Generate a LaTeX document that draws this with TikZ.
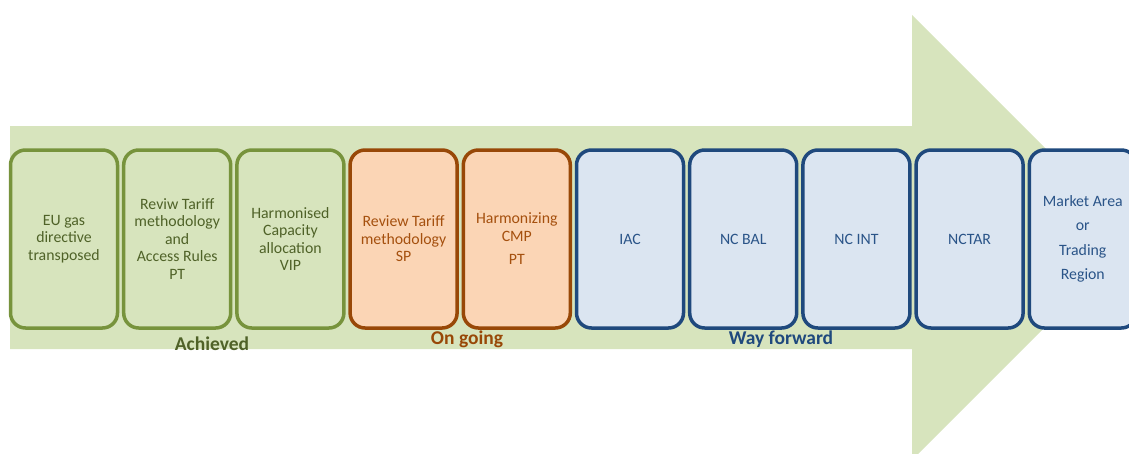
\documentclass[tikz,border=0pt]{standalone}
\usepackage{fontspec}
\setmainfont{Carlito}
\definecolor{arrowfill}{HTML}{D7E4BD}
\definecolor{gline}{HTML}{77933C}
\definecolor{gtext}{HTML}{4F6228}
\definecolor{ofill}{HTML}{FBD5B5}
\definecolor{oline}{HTML}{984807}
\definecolor{otext}{HTML}{A5500E}
\definecolor{bfill}{HTML}{DBE5F1}
\definecolor{bline}{HTML}{1F497D}
\definecolor{btext}{HTML}{2A5488}
\tikzset{
  stagebox/.style={rectangle, rounded corners=15pt, line width=3.5pt,
    minimum width=107pt, minimum height=178pt, align=center,
    font=\fontsize{15.8}{17.5}\selectfont, inner sep=2pt},
  gbox/.style={stagebox, draw=gline, fill=arrowfill, text=gtext},
  obox/.style={stagebox, draw=oline, fill=ofill, text=otext},
  bbox/.style={stagebox, draw=bline, fill=bfill, text=btext},
  phase/.style={font=\fontsize{19.5}{21}\selectfont\bfseries}
}
\begin{document}
\begin{tikzpicture}[x=1pt,y=-1pt]
\useasboundingbox (0,0) rectangle (1129,453);
\clip (0,0) rectangle (1129,453);
\fill[arrowfill] (10,126) -- (912,126) -- (912,15) -- (1134.5,237.5) -- (912,460) -- (912,349) -- (10,349) -- cycle;
\node[gbox] (b1) at (64,239) {EU gas\\directive\\transposed};
\node[gbox] (b2) at (177.2,239) {Reviw Tariff\\methodology\\and\\Access Rules\\PT};
\node[gbox] (b3) at (290.4,239) {Harmonised\\Capacity\\allocation\\VIP};
\node[obox] (b4) at (403.6,239) {Review Tariff\\methodology\\SP};
\node[obox] (b5) at (516.8,239) {Harmonizing\\CMP\\[6pt]PT};
\node[bbox] (b6) at (630,239) {IAC};
\node[bbox] (b7) at (743.2,239) {NC BAL};
\node[bbox] (b8) at (856.4,239) {NC INT};
\node[bbox] (b9) at (969.6,239) {NCTAR};
\node[bbox] (b10) at (1082.8,239) {Market Area\\[7pt]or\\[7pt]Trading\\[7pt]Region};
\node[phase, text=gtext] (l1) at (212,344) {Achieved};
\node[phase, text=oline] (l2) at (467,339) {On going};
\node[phase, text=bline] (l3) at (781,339) {Way forward};
\end{tikzpicture}
\end{document}
